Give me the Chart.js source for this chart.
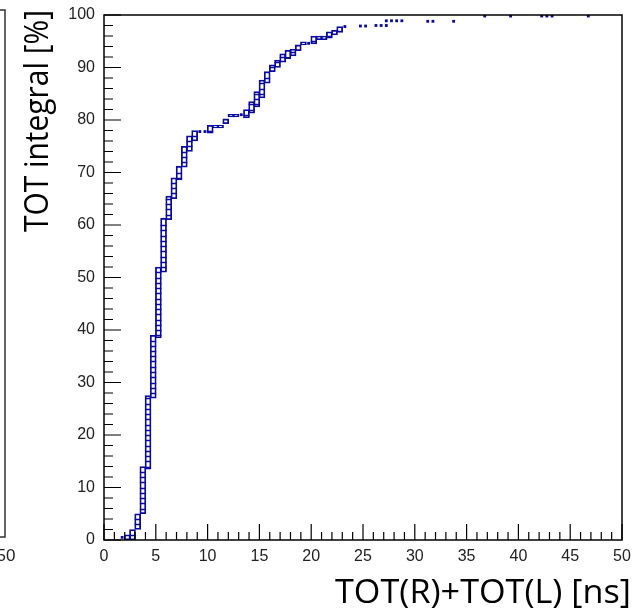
<!DOCTYPE html>
<html>
<head>
<meta charset="utf-8">
<script src="https://cdn.jsdelivr.net/npm/chart.js@4.4.1/dist/chart.umd.min.js"></script>
<style>
  html, body { margin: 0; padding: 0; background: #fff; }
  #wrap { position: relative; width: 639px; height: 612px; }
</style>
</head>
<body>
<div id="wrap"><canvas id="chart" width="639" height="612"></canvas></div>
<script>
// TOT integral columns (bin centre in ns, low / high edge in %)
const binCenters = [2.25, 2.75, 3.25, 3.75, 4.25, 4.75, 5.25, 5.75, 6.25, 6.75, 7.25, 7.75, 8.25, 8.75,
                    10.25, 10.75, 11.25, 11.75, 12.25, 12.75, 13.75, 14.25, 14.75, 15.25, 15.75, 16.25,
                    16.75, 17.25, 17.75, 18.25, 18.75, 19.25, 20.25, 20.75, 21.25, 21.75, 22.25, 22.75];
const binLow  = [0, 0, 2, 5, 13.5, 27, 38.5, 51, 61, 65, 68.6, 71, 74, 76,
                 77.5, 78.5, 78.5, 79.3, 80.6, 80.6, 80.4, 81.3, 82.5, 84.2, 87, 89.2,
                 90, 91, 91.7, 92.2, 93.2, 94.3, 94.5, 95.3, 95.3, 95.6, 96.2, 96.7];
const binHigh = [1, 2, 5, 14, 27.5, 39, 52, 61.3, 65.5, 69, 71.2, 75, 77, 78,
                 79, 79, 79, 80.2, 81.1, 81.1, 82, 83.5, 85.4, 87.6, 89.2, 90.5,
                 91.4, 92.6, 93.3, 93.5, 94.3, 94.9, 96, 96, 96, 96.8, 97.1, 97.8];

// sparse cells drawn as small filled boxes
const dotX = [1.75, 9.25, 9.75, 13.25, 19.75, 23.25, 24.75, 25.25, 26.25, 26.75, 27.25, 27.25,
              27.75, 28.25, 28.75, 31.25, 31.75, 33.75, 36.75, 39.25, 42.25, 42.75, 43.25, 46.75];
const dotY = [0.5, 77.8, 77.8, 81, 94.6, 97.8, 97.9, 97.9, 98, 98, 98, 98.9,
              98.9, 98.9, 98.9, 98.8, 98.8, 98.8, 99.8, 99.8, 99.8, 99.8, 99.8, 99.8];

const xTicks = [0, 5, 10, 15, 20, 25, 30, 35, 40, 45, 50];
const yTicks = [0, 10, 20, 30, 40, 50, 60, 70, 80, 90, 100];

const xTitle = "TOT(R)+TOT(L) [ns]";
const yTitle = "TOT integral [%]";

const markColor = "#0a0a9e";

const columns = binCenters.map((c, i) => ({ x: c, y: [binLow[i], binHigh[i]] }));
const dots = dotX.map((x, i) => ({ x: x, y: dotY[i] }));

// rungs inside each column, one per 1% cell
const rungPlugin = {
    id: "rungs",
    afterDatasetsDraw(chart) {
        const ctx = chart.ctx;
        const yScale = chart.scales.y;
        const meta = chart.getDatasetMeta(0);
        ctx.save();
        ctx.strokeStyle = markColor;
        ctx.lineWidth = 1.5;
        meta.data.forEach((bar, i) => {
            const lo = binLow[i], hi = binHigh[i];
            for (let v = Math.ceil(lo + 0.4); v <= hi - 0.4; v++) {
                const py = Math.round(yScale.getPixelForValue(v)) + 0.5;
                ctx.beginPath();
                ctx.moveTo(bar.x - bar.width / 2, py);
                ctx.lineTo(bar.x + bar.width / 2, py);
                ctx.stroke();
            }
        });
        ctx.restore();
    }
};

// ROOT style frame, inner ticks, axis titles, neighbour pad edge
const framePlugin = {
    id: "frame",
    afterDraw(chart) {
        const ctx = chart.ctx;
        const a = chart.chartArea;
        const xs = chart.scales.x, ys = chart.scales.y;
        ctx.save();
        ctx.strokeStyle = "#000";
        ctx.lineWidth = 1.5;
        ctx.strokeRect(a.left, a.top, a.right - a.left, a.bottom - a.top);

        ctx.lineWidth = 1.2;
        ctx.beginPath();
        for (let v = 0; v <= 50; v++) {
            const px = xs.getPixelForValue(v);
            const len = v % 5 === 0 ? 16 : 8;
            ctx.moveTo(px, a.bottom);
            ctx.lineTo(px, a.bottom - len);
        }
        for (let v = 0; v <= 100; v += 2) {
            const py = ys.getPixelForValue(v);
            const len = v % 10 === 0 ? 17 : 9;
            ctx.moveTo(a.left, py);
            ctx.lineTo(a.left + len, py);
        }
        ctx.stroke();

        // left neighbour pad
        ctx.lineWidth = 1.5;
        ctx.strokeStyle = "#333";
        ctx.beginPath();
        ctx.moveTo(0, 10);
        ctx.lineTo(5, 10);
        ctx.lineTo(5, 537);
        ctx.lineTo(0, 537);
        ctx.stroke();
        ctx.fillStyle = "#222";
        ctx.font = '17px "Liberation Sans", Arial, sans-serif';
        ctx.textAlign = "center";
        ctx.textBaseline = "alphabetic";
        ctx.fillText("50", 6, 561);

        // axis titles
        ctx.fillStyle = "#000";
        ctx.font = '33px "Open Sans", "Noto Sans", sans-serif';
        let w = ctx.measureText(xTitle).width;
        ctx.save();
        ctx.translate(631, 603);
        ctx.scale(296 / w, 1);
        ctx.textAlign = "right";
        ctx.fillText(xTitle, 0, 0);
        ctx.restore();

        ctx.font = '33px "Open Sans", "Noto Sans", sans-serif';
        w = ctx.measureText(yTitle).width;
        ctx.save();
        ctx.translate(48, 10);
        ctx.rotate(-Math.PI / 2);
        ctx.scale(222 / w, 1);
        ctx.textAlign = "right";
        ctx.fillText(yTitle, 0, 0);
        ctx.restore();
        ctx.restore();
    }
};

new Chart(document.getElementById("chart"), {
    type: "bar",
    data: {
        datasets: [
            {
                type: "bar",
                data: columns,
                backgroundColor: "#fff",
                borderColor: markColor,
                borderWidth: 1.8,
                borderSkipped: false,
                barThickness: 6,
                grouped: false
            },
            {
                type: "scatter",
                data: dots,
                pointStyle: "rect",
                pointRadius: 2,
                backgroundColor: markColor,
                borderWidth: 0
            }
        ]
    },
    options: {
        responsive: false,
        animation: false,
        devicePixelRatio: 1,
        events: [],
        layout: { padding: { left: 0, top: 15, right: 17, bottom: 0 } },
        plugins: { legend: { display: false }, tooltip: { enabled: false } },
        scales: {
            x: {
                type: "linear",
                offset: false,
                min: 0,
                max: 50,
                grid: { display: false, drawTicks: false, offset: false },
                border: { display: false },
                afterBuildTicks: (s) => { s.ticks = xTicks.map(v => ({ value: v })); },
                afterFit: (s) => { s.height = 72; s.paddingLeft = 0; s.paddingRight = 0; },
                ticks: {
                    padding: 7,
                    maxRotation: 0,
                    color: "#222",
                    font: { family: '"Liberation Sans", Arial, sans-serif', size: 16 }
                }
            },
            y: {
                min: 0,
                max: 100,
                grid: { display: false, drawTicks: false },
                border: { display: false },
                afterBuildTicks: (s) => { s.ticks = yTicks.map(v => ({ value: v })); },
                afterFit: (s) => { s.width = 104; s.paddingTop = 0; s.paddingBottom = 0; },
                ticks: {
                    padding: 9,
                    color: "#222",
                    font: { family: '"Liberation Sans", Arial, sans-serif', size: 16 }
                }
            }
        }
    },
    plugins: [rungPlugin, framePlugin]
});
</script>
</body>
</html>
